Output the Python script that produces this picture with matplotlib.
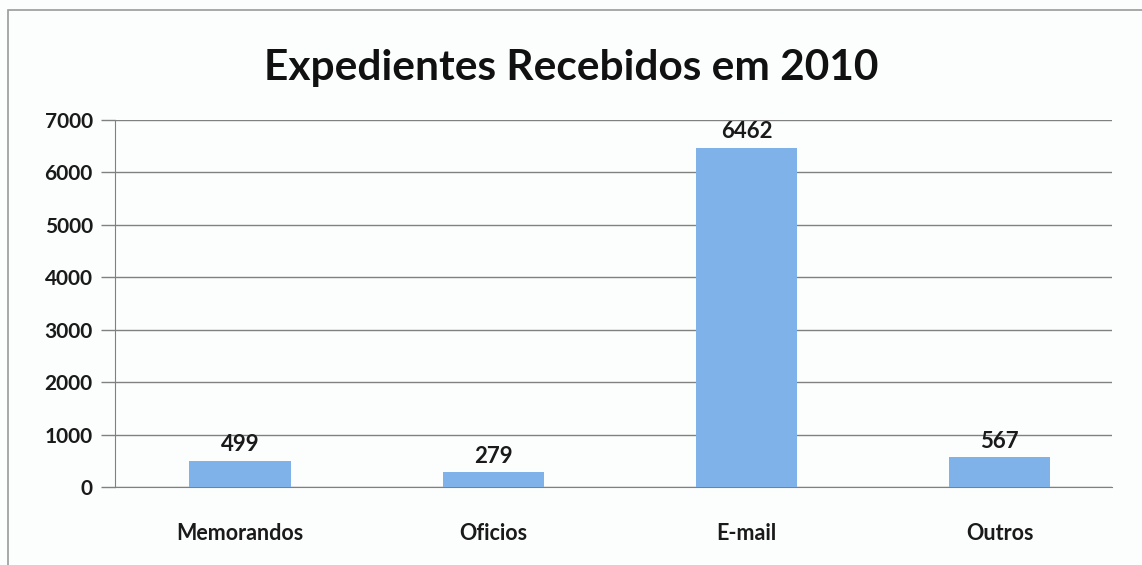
import matplotlib.pyplot as plt
from matplotlib.patches import Rectangle

categories = ["Memorandos", "Oficios", "E-mail", "Outros"]
values = [499, 279, 6462, 567]
yticks = [0, 1000, 2000, 3000, 4000, 5000, 6000, 7000]

plt.rcParams['font.family'] = ['Lato', 'DejaVu Sans']

fig = plt.figure(figsize=(11.42, 5.65), dpi=100)
fig.patch.set_facecolor('#fcfdfd')
# outer chart frame
fig.patches.append(Rectangle((8/1142, -0.01), 1140/1142, 1 - 10/565 + 0.01,
                             transform=fig.transFigure, fill=False,
                             edgecolor='#9a9a9a', linewidth=1.2))

ax = fig.add_axes([115/1142, 1 - 487/565, 997/1142, 367/565])
ax.set_facecolor('#fcfdfd')
x = range(len(categories))
bars = ax.bar(x, values, width=0.4, color='#80b2ea', zorder=3)
for b, v in zip(bars, values):
    ax.text(b.get_x() + b.get_width() / 2, v + 110, str(v), ha='center', va='bottom',
            fontsize=16, fontweight='bold', color='#1a1a1a', zorder=4)

ax.set_xlim(-0.493, 3.443)
ax.set_ylim(0, 7000)
ax.set_yticks(yticks)
ax.set_yticklabels([str(t) for t in yticks], fontsize=15, fontweight='bold', color='#1a1a1a')
ax.set_xticks(list(x))
ax.set_xticklabels(categories, fontsize=15.5, fontweight='bold', color='#1a1a1a')
ax.tick_params(axis='x', length=0, pad=26)
ax.tick_params(axis='y', length=10, width=1, color='#808080', pad=6)
ax.grid(axis='y', color='#808080', linewidth=1, zorder=0)
for s in ['top', 'right']:
    ax.spines[s].set_visible(False)
ax.spines['left'].set_color('#808080')
ax.spines['bottom'].set_color('#808080')

fig.text(0.5, 1 - 68/565, "Expedientes Recebidos em 2010", ha='center', va='center',
         fontsize=30.5, fontweight='bold', color='#111111')

fig.savefig('out.png', dpi=100, facecolor=fig.get_facecolor())
